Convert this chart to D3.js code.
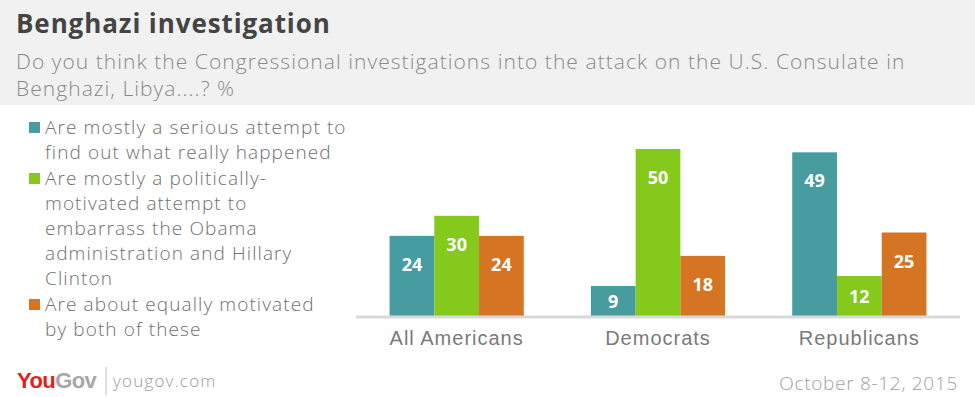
<!DOCTYPE html>
<html lang="en">
<head>
    <meta charset="utf-8">
    <title>Benghazi investigation</title>
    <script src="https://d3js.org/d3.v7.min.js" charset="utf-8"></script>
    <style type="text/css">
        body { margin: 0; background: white; }
        svg { display: block; font-family: "Open Sans", "Lato", sans-serif; }
        .title { fill: #444; font-size: 26px; font-weight: 700; letter-spacing: 0.9px; }
        .subtitle { fill: #8a8a8a; font-size: 21px; font-weight: 300; letter-spacing: 1.05px; }
        .legend { fill: #6f6f6f; font-size: 19px; font-weight: 300; letter-spacing: 1.1px; }
        .cat { fill: #7a7a7a; font-size: 20px; font-weight: 300; letter-spacing: 1px; }
        .val { fill: white; font-size: 18px; font-weight: 700; }
        .foot { fill: #9a9a9a; font-size: 17px; font-weight: 300; letter-spacing: 1.2px; }
        .date { fill: #a0a0a0; font-size: 19px; font-weight: 300; letter-spacing: 0.7px; }
    </style>
</head>
<body>
<div id="main"></div>
<script type="text/javascript">
var width = 975;
var height = 397;

// data
var groups = ["All Americans", "Democrats", "Republicans"];
var series = ["serious", "political", "both"];
var serious = [24, 9, 49];
var political = [30, 50, 12];
var both = [24, 18, 25];
var colors = ["#469c9e", "#84c91c", "#d57524"];
var legendLines = [
    ["Are mostly a serious attempt to", "find out what really happened"],
    ["Are mostly a politically-", "motivated attempt to", "embarrass the Obama", "administration and Hillary", "Clinton"],
    ["Are about equally motivated", "by both of these"]
];
var subtitleLines = [
    "Do you think the Congressional investigations into the attack on the U.S. Consulate in",
    "Benghazi, Libya....? %"
];

var values = [serious, political, both];

var svg = d3.select("div#main")
    .append("svg")
    .attr("width", width)
    .attr("height", height);

// header
svg.append("rect").attr("x", 0).attr("y", 0).attr("width", width).attr("height", 105).attr("fill", "#f1f1f1");
svg.append("text").attr("class", "title").attr("x", 16).attr("y", 33).text("Benghazi investigation");
svg.selectAll("text.subtitle")
    .data(subtitleLines)
    .enter()
    .append("text")
    .attr("class", "subtitle")
    .attr("x", 16)
    .attr("y", function(d, i){ return 69 + i * 27 })
    .text(function(d){ return d });

// legend
var lineH = 25;
var ly = 134;
legendLines.forEach(function(lines, i){
    var g = svg.append("g");
    g.append("rect").attr("x", 29).attr("y", ly - 12).attr("width", 11).attr("height", 11).attr("fill", colors[i]);
    lines.forEach(function(t, j){
        g.append("text").attr("class", "legend").attr("x", 45).attr("y", ly + j * lineH).text(t);
    });
    ly += lines.length * lineH + 1;
});

// chart
var x0 = d3.scaleBand().domain(groups).range([356, 960]).paddingInner(1/3).paddingOuter(1/6);
var x1 = d3.scaleBand().domain(series).range([0, x0.bandwidth()]);
var y = d3.scaleLinear().domain([0, 50]).range([316, 149]);

var rows = [];
groups.forEach(function(g, gi){
    series.forEach(function(s, si){
        rows.push({group: g, key: s, value: values[si][gi], color: colors[si]});
    });
});

var bars = svg.append("g").selectAll("g")
    .data(rows)
    .enter()
    .append("g");

bars.append("rect")
    .attr("x", function(d){ return x0(d.group) + x1(d.key) })
    .attr("y", function(d){ return y(d.value) })
    .attr("width", x1.bandwidth())
    .attr("height", function(d){ return y(0) - y(d.value) })
    .attr("fill", function(d){ return d.color });

bars.append("text")
    .attr("class", "val")
    .attr("text-anchor", "middle")
    .attr("x", function(d){ return x0(d.group) + x1(d.key) + x1.bandwidth() / 2 })
    .attr("y", function(d){
        var h = y(0) - y(d.value);
        return y(d.value) + Math.min(28, h / 2) + 7;
    })
    .text(function(d){ return d.value });

// baseline + category labels
svg.append("line").attr("x1", 356).attr("x2", 960).attr("y1", 317).attr("y2", 317)
    .attr("stroke", "#d9d9d9").attr("stroke-width", 3);

var xAxis = svg.append("g")
    .attr("transform", "translate(0,318)")
    .call(d3.axisBottom(x0).tickSize(0).tickPadding(13));
xAxis.select(".domain").remove();
xAxis.selectAll("text").attr("class", "cat").attr("fill", null).attr("font-size", null).attr("font-family", null);

// footer
var logo = svg.append("text").attr("x", 17).attr("y", 388)
    .attr("font-family", "'Liberation Sans Narrow', 'Liberation Sans', sans-serif")
    .attr("font-weight", 700).attr("font-size", 22).attr("letter-spacing", -0.6);
logo.append("tspan").attr("fill", "#e4201c").text("You");
logo.append("tspan").attr("fill", "#a7a7a7").text("Gov");
svg.append("line").attr("x1", 106).attr("x2", 106).attr("y1", 367).attr("y2", 395)
    .attr("stroke", "#bdbdbd").attr("stroke-width", 1);
svg.append("text").attr("class", "foot").attr("x", 113).attr("y", 387).text("yougov.com");
svg.append("text").attr("class", "date").attr("x", 958).attr("y", 390)
    .attr("text-anchor", "end").text("October 8-12, 2015");
</script>
</body>
</html>
